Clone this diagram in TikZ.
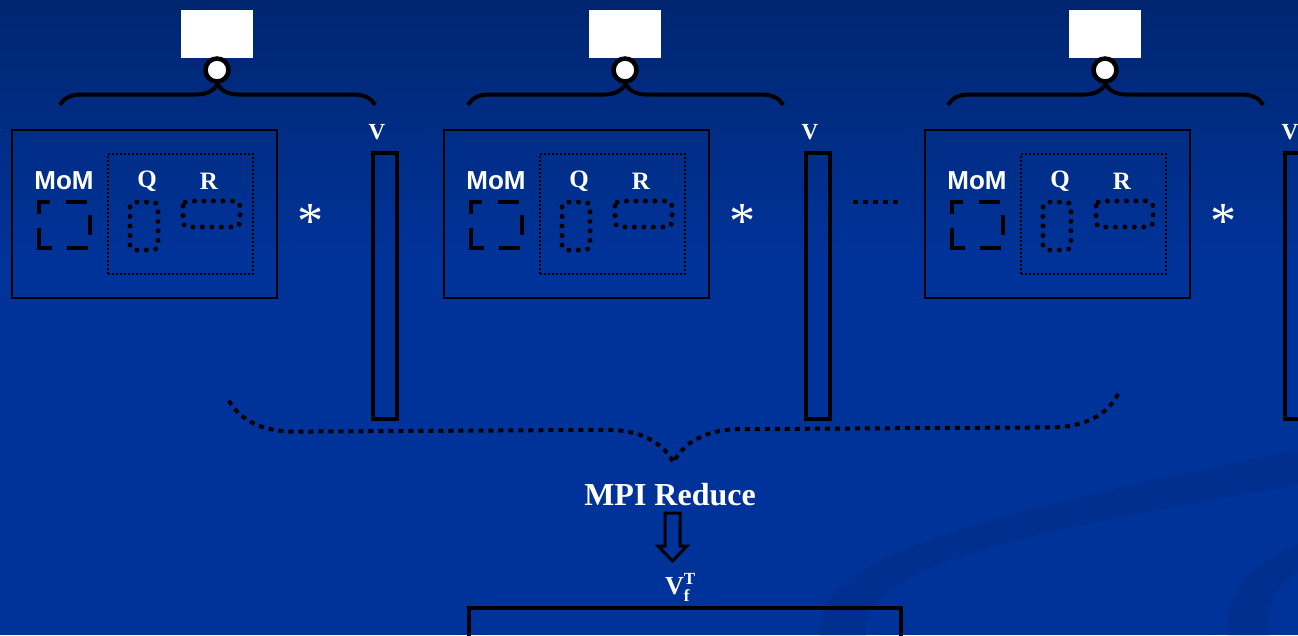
\documentclass[tikz,border=0pt]{standalone}
\usepackage{fontspec}
\setmainfont{Liberation Serif}
\newfontfamily\arialf{Liberation Sans}
\usetikzlibrary{decorations.pathreplacing}
\definecolor{bgtop}{RGB}{0,38,112}
\definecolor{bgbot}{RGB}{0,51,153}
\definecolor{swoosh}{RGB}{0,47,144}
\tikzset{
  whitebox/.style={fill=white,draw=none,minimum width=72pt,minimum height=48pt,inner sep=0pt},
  ringnode/.style={circle,fill=white,draw=black,line width=4.5pt,minimum size=23pt,inner sep=0pt},
  topbrace/.style={draw=black,line width=4pt,decorate,decoration={brace,amplitude=21pt}},
  bigbox/.style={draw=black,line width=2pt,minimum width=265pt,minimum height=168pt,inner sep=0pt},
  innerbox/.style={draw=black,line width=1.6pt,dash pattern=on 2pt off 2pt,minimum width=145pt,minimum height=120pt,inner sep=0pt},
  momlbl/.style={text=white,font=\arialf\bfseries\fontsize{26}{26}\selectfont,inner sep=0pt},
  qrlbl/.style={text=white,font=\bfseries\fontsize{25}{25}\selectfont,inner sep=0pt},
  vlbl/.style={text=white,font=\bfseries\fontsize{23}{23}\selectfont,inner sep=0pt},
  starlbl/.style={text=white,font=\fontsize{52}{52}\selectfont,inner sep=0pt,anchor=base},
  dashpiece/.style={draw=black,line width=4.5pt,line join=miter},
  dotsq/.style={draw=black,line width=5pt,dash pattern=on 0pt off 9.5pt,line cap=round,rounded corners=5pt},
  vbar/.style={draw=black,line width=4pt,minimum width=24pt,minimum height=266pt,inner sep=0pt},
  sqdots/.style={draw=black,line width=4pt,dash pattern=on 5pt off 5pt},
  botbrace/.style={draw=black,line width=4pt,dash pattern=on 5pt off 5pt,decorate,decoration={brace,amplitude=66pt}},
  hollowarrow/.style={draw=black,line width=3pt,line join=miter}
}
\begin{document}
\begin{tikzpicture}[x=1pt,y=-1pt]
\useasboundingbox (0,0) rectangle (1298,635);
% background
\shade[top color=bgtop,bottom color=bgbot] (0,0) rectangle (1298,260);
\fill[bgbot] (0,259) rectangle (1298,635);
\fill[swoosh] (820,635) .. controls (815,560) and (950,520) .. (1298,450)
  -- (1298,485) .. controls (1000,535) and (860,570) .. (866,635) -- cycle;
\fill[swoosh] (1228,635) .. controls (1220,590) and (1260,560) .. (1298,543)
  -- (1298,572) .. controls (1275,585) and (1262,610) .. (1270,635) -- cycle;

% three processor groups
\foreach \i/\tx/\dx in {1/0/0,2/408/432,3/888/913}{
  \begin{scope}[xshift=\tx pt]
  \node[whitebox] (w\i) at (217,34) {};
  \coordinate (bl\i) at (60,105);
  \coordinate (br\i) at (375,105);
  \draw[topbrace] (bl\i) -- (br\i);
  \node[ringnode] (c\i) at (217,70) {};
  \end{scope}
  \begin{scope}[xshift=\dx pt]
  \node[bigbox] (b\i) at (144.5,214) {};
  \node[innerbox] (d\i) at (180.5,214) {};
  \node[momlbl] (m\i) at (64,181) {MoM};
  \node[qrlbl] (q\i) at (147,181) {Q};
  \node[qrlbl] (r\i) at (209,181) {R};
  \draw[dashpiece] (39,214) -- (39,202) -- (50,202);
  \draw[dashpiece] (66,202) -- (87,202);
  \draw[dashpiece] (90,215) -- (90,235);
  \draw[dashpiece] (67,248) -- (88,248);
  \draw[dashpiece] (39,228) -- (39,248) -- (52,248);
  \draw[dotsq] (130,202) rectangle (158,250);
  \draw[dotsq] (183,201) rectangle (240,227);
  \node[starlbl] (s\i) at (310,238) {*};
  \end{scope}
}
% V bars
\node[vbar] (v1) at (385,286) {};
\node[vlbl] (vl1) at (377,132) {V};
\node[vbar] (v2) at (817.5,286) {};
\node[vlbl] (vl2) at (810,132) {V};
\node[vbar] (v3) at (1297,286) {};
\node[vlbl] (vl3) at (1290,132) {V};
% dots between groups
\coordinate (e1) at (853,202);
\coordinate (e2) at (901,202);
\draw[sqdots] (e1) -- (e2);
% bottom reduce brace
\coordinate (rb1) at (1118,394);
\coordinate (rb2) at (228,399);
\draw[botbrace] (rb1) -- (rb2);
\node[text=white,font=\bfseries\fontsize{32}{32}\selectfont,inner sep=0pt] (mpi) at (670,495) {MPI Reduce};
\draw[hollowarrow] (665,513) -- (680,513) -- (680,546) -- (687,546) -- (672.5,561) -- (658,546) -- (665,546) -- cycle;
\node[text=white,font=\bfseries\fontsize{26}{26}\selectfont,inner sep=0pt,anchor=base west] (vf) at (665,594)
  {V\rlap{\raisebox{10pt}{\fontsize{17}{17}\selectfont T}}\raisebox{-7pt}{\fontsize{17}{17}\selectfont f}};
\node[draw=black,line width=4pt,minimum width=432pt,minimum height=40pt,inner sep=0pt] (vt) at (685,628) {};
\end{tikzpicture}
\end{document}
